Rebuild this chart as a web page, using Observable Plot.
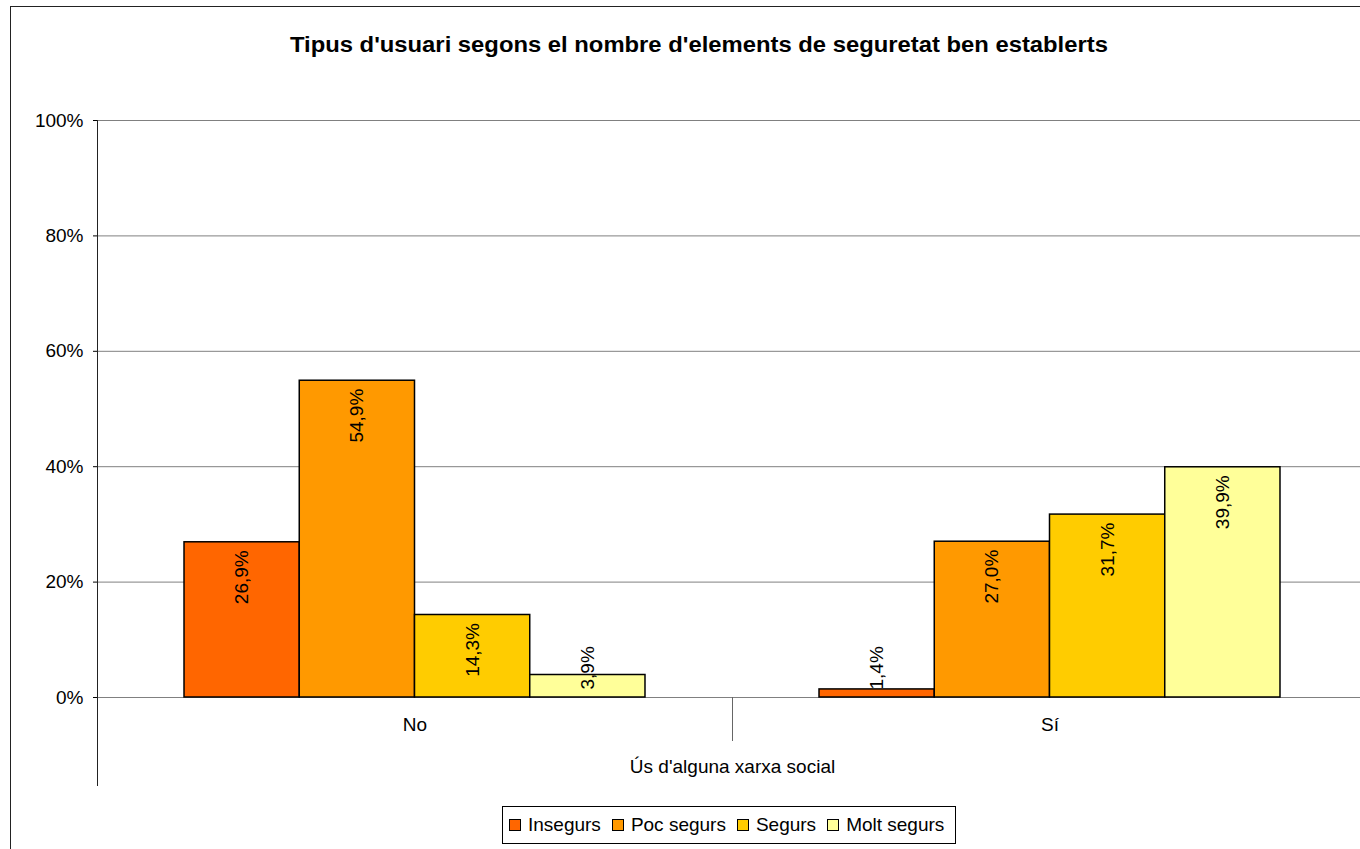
<!DOCTYPE html>
<html><head><meta charset="utf-8">
<script src="https://cdn.jsdelivr.net/npm/d3@7"></script>
<script src="https://cdn.jsdelivr.net/npm/@observablehq/plot@0.6"></script>
<style>
html,body{margin:0;padding:0;background:#fff;width:1360px;height:849px;overflow:hidden;font-family:"Liberation Sans",Arial,sans-serif;color:#000;}
#border{position:absolute;left:10px;top:6px;width:2000px;height:2000px;border:1px solid #222;box-sizing:border-box;}
#title{position:absolute;top:34px;left:0;width:1398px;text-align:center;font-weight:bold;font-size:22px;line-height:22px;white-space:nowrap;}
#title span{display:inline-block;transform-origin:center;}
#chart{position:absolute;left:0;top:0;}
#legend{position:absolute;left:502px;top:806px;height:38px;box-sizing:border-box;border:1px solid #000;background:#fff;display:flex;align-items:center;padding:0 11px 0 6px;font-size:19px;white-space:nowrap;}
#legend .item{display:flex;align-items:center;margin-right:11px;}
#legend .item:last-child{margin-right:0;}
#legend .sw{width:12px;height:12px;box-sizing:border-box;border:1.5px solid #000;margin-right:7px;}
</style></head>
<body>
<div id="border"></div>
<div id="chart"></div>
<div id="title"><span></span></div>
<div id="legend"></div>
<script>
const titleText = "Tipus d'usuari segons el nombre d'elements de seguretat ben establerts";
const xLabel = "Ús d'alguna xarxa social";
const categories = ["No", "Sí"];
const series = ["Insegurs", "Poc segurs", "Segurs", "Molt segurs"];
const valuesNo = [0.269, 0.549, 0.143, 0.039];
const valuesSi = [0.014, 0.270, 0.317, 0.399];
const colors = ["#FF6600", "#FF9900", "#FFCC00", "#FFFF99"];
const yTicks = [0, 0.2, 0.4, 0.6, 0.8, 1];

const valuesByCat = [valuesNo, valuesSi];
const data = categories.flatMap((c, ci) => series.map((s, si) => ({cat: c, serie: s, value: valuesByCat[ci][si]})));
const fmt = v => (v * 100).toFixed(1).replace(".", ",") + "%";

const W = 1360, H = 849, mL = 97, mR = -7, mT = 120, mB = 152;
const plotH = H - mT - mB;
const font = "Liberation Sans, Arial, sans-serif";

const plot = Plot.plot({
  width: W, height: H,
  marginLeft: mL, marginRight: mR, marginTop: mT, marginBottom: mB,
  style: {fontFamily: font, fontSize: "19px", color: "#000", background: "transparent", overflow: "hidden"},
  fx: {domain: categories, padding: 0, label: null, round: false},
  x: {domain: series, paddingInner: 0, paddingOuter: 0.755, axis: null, round: false},
  y: {domain: [0, 1], axis: null},
  color: {domain: series, range: colors},
  marks: [
    Plot.gridY(yTicks, {stroke: "#808080", strokeOpacity: 1, strokeWidth: 1}),
    Plot.frame({anchor: "left", facetAnchor: "left", insetBottom: -88, stroke: "#222"}),
    Plot.frame({anchor: "right", facetAnchor: "left", insetTop: plotH, insetBottom: -43, stroke: "#666"}),
    Plot.axisY(yTicks, {tickFormat: d => Math.round(d * 100) + "%", tickSize: 4, tickPadding: 10, fontSize: 19, stroke: "#000", label: null}),
    Plot.axisFx({anchor: "bottom", tickSize: 0, tickPadding: 20, fontSize: 19, label: null}),
    Plot.barY(data, {fx: "cat", x: "serie", y: "value", fill: "serie", stroke: "#000", strokeWidth: 1.5}),
    Plot.text(data.filter(d => d.value >= 0.1), {fx: "cat", x: "serie", y: "value", text: d => fmt(d.value), rotate: -90, textAnchor: "end", dy: 8, fontSize: 19, fill: "#000"}),
    Plot.text(data.filter(d => d.value < 0.1), {fx: "cat", x: "serie", y: () => 0, text: d => fmt(d.value), rotate: -90, textAnchor: "start", dy: -8, fontSize: 19, fill: "#000"}),
    Plot.text([xLabel], {facet: "super", frameAnchor: "bottom", text: d => d, dy: 62, lineAnchor: "top", fontSize: 19, fill: "#000"})
  ]
});
document.getElementById("chart").appendChild(plot);

// title
const tspan = document.querySelector("#title span");
tspan.textContent = titleText;
const tw = tspan.getBoundingClientRect().width;
tspan.style.transform = `scaleX(${818 / tw})`;

// legend
const cs = plot.scale("color");
const legend = document.getElementById("legend");
cs.domain.forEach((s, i) => {
  const item = document.createElement("div");
  item.className = "item";
  const sw = document.createElement("div");
  sw.className = "sw";
  sw.style.background = cs.range[i];
  const lab = document.createElement("span");
  lab.textContent = s;
  item.appendChild(sw); item.appendChild(lab);
  legend.appendChild(item);
});
</script>
</body></html>
